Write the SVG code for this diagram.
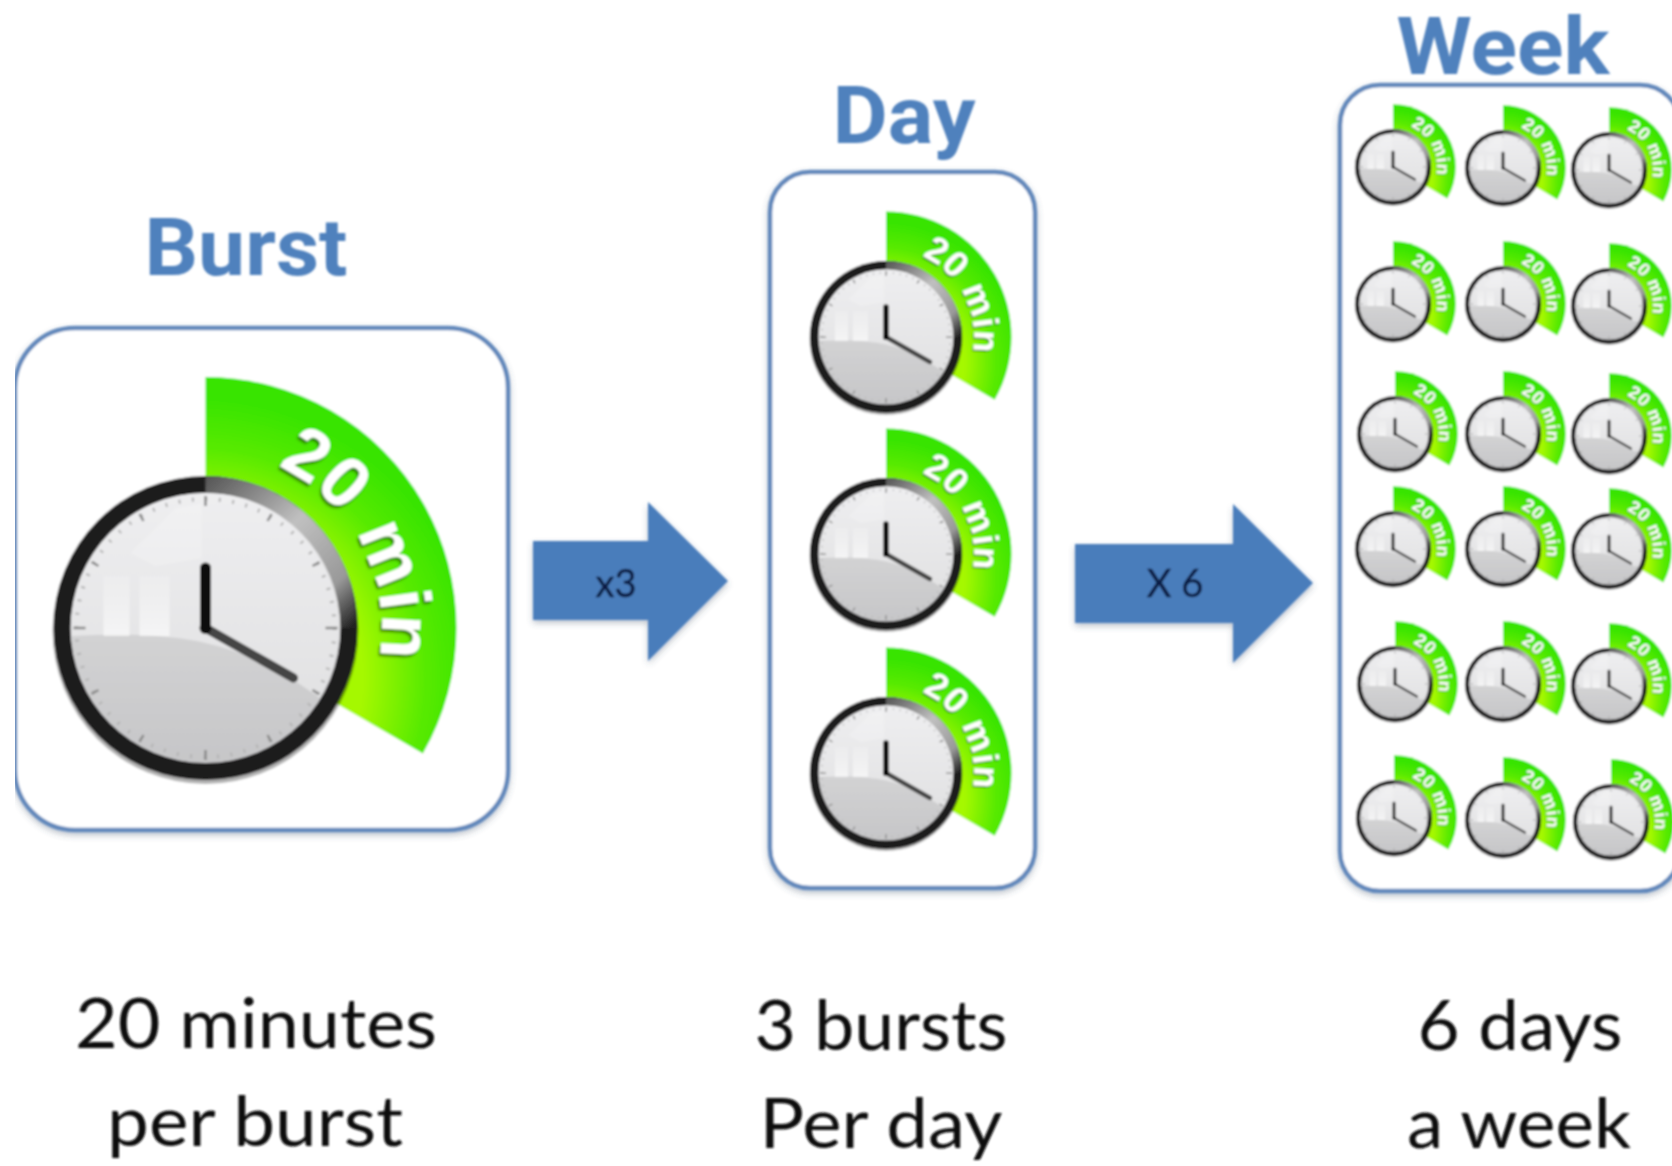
<svg xmlns="http://www.w3.org/2000/svg" width="1672" height="1166" viewBox="0 0 1672 1166">
<style>
.box{fill:#fff;stroke:#6288bb;stroke-width:4.5;filter:url(#soft)}
.title{font:700 80px Roboto,"Liberation Sans",sans-serif;fill:#4f81bd;text-anchor:middle}
.cap{font:400 70px Lato,"Liberation Sans",sans-serif;fill:#111;text-anchor:middle}
.mul{font:400 38px Lato,"Liberation Sans",sans-serif;fill:#0b1f45;stroke:#0b1f45;stroke-width:.5;text-anchor:middle}
.t{font:700 72px "Liberation Sans",Arial,sans-serif;fill:#fff;letter-spacing:1px;filter:url(#ts)}
.arrow{fill:#4a7dbb;filter:url(#soft)}
.tick{stroke:#8a8a8a;stroke-width:2.5}
</style>
<defs>
<filter id="blur" x="0" y="0" width="100%" height="100%"><feGaussianBlur stdDeviation="0.9"/></filter>
<filter id="soft" x="-5%" y="-5%" width="110%" height="110%"><feDropShadow dx="0" dy="3" stdDeviation="3" flood-color="#44546a" flood-opacity="0.35"/></filter>
<filter id="ts" x="-10%" y="-10%" width="120%" height="120%"><feDropShadow dx="-2" dy="3" stdDeviation="1" flood-color="#1a3a00" flood-opacity="0.6"/></filter>
<radialGradient id="green" gradientUnits="userSpaceOnUse" cx="-10" cy="50" r="280">
<stop offset="0.6" stop-color="#a5f800"/><stop offset="0.82" stop-color="#58ea00"/><stop offset="1" stop-color="#38e400"/>
</radialGradient>
<linearGradient id="face" x1="0" y1="0" x2="0" y2="1">
<stop offset="0" stop-color="#e0e0e0"/><stop offset="1" stop-color="#c6c6c8"/>
</linearGradient>
<linearGradient id="gloss" x1="0" y1="0" x2="0" y2="1">
<stop offset="0" stop-color="#eeeef0"/><stop offset="1" stop-color="#e2e2e3"/>
</linearGradient>
<linearGradient id="win" x1="0" y1="0" x2="0" y2="1">
<stop offset="0" stop-color="#fff" stop-opacity="0.15"/><stop offset="1" stop-color="#fff" stop-opacity="0.6"/>
</linearGradient>
<linearGradient id="glare" gradientUnits="userSpaceOnUse" x1="0" y1="-150" x2="145" y2="0">
<stop offset="0" stop-color="#555"/><stop offset="0.45" stop-color="#c0c0c0"/><stop offset="0.8" stop-color="#999"/><stop offset="1" stop-color="#222"/>
</linearGradient>
<path id="arc" d="M72 -162A176 176 0 0 1 170 45"/>
<g id="dial">
<path d="M0 0V-251A251 251 0 0 1 217.4 125.5Z" fill="url(#green)"/>
<circle r="153" cy="3" fill="#000" opacity="0.3"/>
<circle r="152" fill="#1e1c1e"/>
<path d="M0 -143A143 143 0 0 1 143 0" fill="none" stroke="url(#glare)" stroke-width="18"/>
<circle r="135" fill="url(#face)"/>
<path d="M-134 8C-70 5 -30 8 0 15C45 25 85 48 114 70A135 135 0 0 0 0 -135A135 135 0 0 0 -134 8Z" fill="url(#gloss)"/>
<circle r="129" fill="none" stroke="#b4b4b4" stroke-width="4" stroke-dasharray="2 11.5"/>
<path d="M-102 8H-76V-52H-102ZM-66 8H-36V-52H-66Z" fill="url(#win)"/>
<path d="M-75 -75L-30 -120L-4 -125V-70L-50 -62Z" fill="#fff" opacity="0.22"/>
<path class="tick" d="M0 -132V-122M0 132V122M-132 0H-120M132 0H120M66 -114L62 -107M114 -66L107 -62M114 66L107 62M66 114L62 107M-66 114L-62 107M-114 66L-107 62M-114 -66L-107 -62M-66 -114L-62 -107"/>
<path d="M0 0L88 50" stroke="#444" stroke-width="9" stroke-linecap="round"/>
<path d="M0 0V-60" stroke="#111" stroke-width="11" stroke-linecap="round"/>
<circle r="6" fill="#111"/>
</g>
</defs>
<rect width="1672" height="1166" fill="#fff"/>
<g filter="url(#blur)">
<g id="connectors">
<path class="arrow" d="M533 541H648V502L728 581L648 661V620H533Z"/>
<path class="arrow" d="M1075 544H1233V504L1313 583L1233 663V623H1075Z"/>
<text class="mul" x="616" y="597">x3</text>
<text class="mul" x="1175" y="597">X 6</text>
</g>
<g id="node-burst">
<text class="title" x="246" y="275" textLength="203" lengthAdjust="spacingAndGlyphs">Burst</text>
<rect class="box" x="15" y="328" width="493" height="502" rx="60"/>
<g transform="translate(205.5 628)"><use href="#dial"/><text class="t"><textPath href="#arc">20 min</textPath></text></g>
<text class="cap" x="256" y="1048" textLength="362" lengthAdjust="spacingAndGlyphs">20 minutes</text>
<text class="cap" x="255" y="1146" textLength="296" lengthAdjust="spacingAndGlyphs">per burst</text>
</g>
<g id="node-day">
<text class="title" x="904" y="143" textLength="143" lengthAdjust="spacingAndGlyphs">Day</text>
<rect class="box" x="770" y="172" width="265" height="716" rx="40"/>
<g transform="translate(886 337) scale(.5)"><use href="#dial"/><text class="t"><textPath href="#arc">20 min</textPath></text></g>
<g transform="translate(886 554) scale(.5)"><use href="#dial"/><text class="t"><textPath href="#arc">20 min</textPath></text></g>
<g transform="translate(886 773) scale(.5)"><use href="#dial"/><text class="t"><textPath href="#arc">20 min</textPath></text></g>
<text class="cap" x="881" y="1050" textLength="253" lengthAdjust="spacingAndGlyphs">3 bursts</text>
<text class="cap" x="881" y="1148" textLength="243" lengthAdjust="spacingAndGlyphs">Per day</text>
</g>
<g id="node-week">
<text class="title" x="1503" y="74" textLength="213" lengthAdjust="spacingAndGlyphs">Week</text>
<rect class="box" x="1340" y="85" width="340" height="806" rx="40"/>
<g transform="translate(1393 167) scale(.25)"><use href="#dial"/><text class="t"><textPath href="#arc">20 min</textPath></text></g>
<g transform="translate(1503 168) scale(.25)"><use href="#dial"/><text class="t"><textPath href="#arc">20 min</textPath></text></g>
<g transform="translate(1609 170) scale(.25)"><use href="#dial"/><text class="t"><textPath href="#arc">20 min</textPath></text></g>
<g transform="translate(1393 304) scale(.25)"><use href="#dial"/><text class="t"><textPath href="#arc">20 min</textPath></text></g>
<g transform="translate(1503 304) scale(.25)"><use href="#dial"/><text class="t"><textPath href="#arc">20 min</textPath></text></g>
<g transform="translate(1609 306) scale(.25)"><use href="#dial"/><text class="t"><textPath href="#arc">20 min</textPath></text></g>
<g transform="translate(1395 434) scale(.25)"><use href="#dial"/><text class="t"><textPath href="#arc">20 min</textPath></text></g>
<g transform="translate(1503 434) scale(.25)"><use href="#dial"/><text class="t"><textPath href="#arc">20 min</textPath></text></g>
<g transform="translate(1609 436) scale(.25)"><use href="#dial"/><text class="t"><textPath href="#arc">20 min</textPath></text></g>
<g transform="translate(1393 549) scale(.25)"><use href="#dial"/><text class="t"><textPath href="#arc">20 min</textPath></text></g>
<g transform="translate(1503 549) scale(.25)"><use href="#dial"/><text class="t"><textPath href="#arc">20 min</textPath></text></g>
<g transform="translate(1609 551) scale(.25)"><use href="#dial"/><text class="t"><textPath href="#arc">20 min</textPath></text></g>
<g transform="translate(1395 684) scale(.25)"><use href="#dial"/><text class="t"><textPath href="#arc">20 min</textPath></text></g>
<g transform="translate(1503 684) scale(.25)"><use href="#dial"/><text class="t"><textPath href="#arc">20 min</textPath></text></g>
<g transform="translate(1609 686) scale(.25)"><use href="#dial"/><text class="t"><textPath href="#arc">20 min</textPath></text></g>
<g transform="translate(1394 818) scale(.25)"><use href="#dial"/><text class="t"><textPath href="#arc">20 min</textPath></text></g>
<g transform="translate(1503 820) scale(.25)"><use href="#dial"/><text class="t"><textPath href="#arc">20 min</textPath></text></g>
<g transform="translate(1611 822) scale(.25)"><use href="#dial"/><text class="t"><textPath href="#arc">20 min</textPath></text></g>
<text class="cap" x="1520" y="1050" textLength="205" lengthAdjust="spacingAndGlyphs">6 days</text>
<text class="cap" x="1519" y="1148" textLength="224" lengthAdjust="spacingAndGlyphs">a week</text>
</g>
</g>
</svg>
